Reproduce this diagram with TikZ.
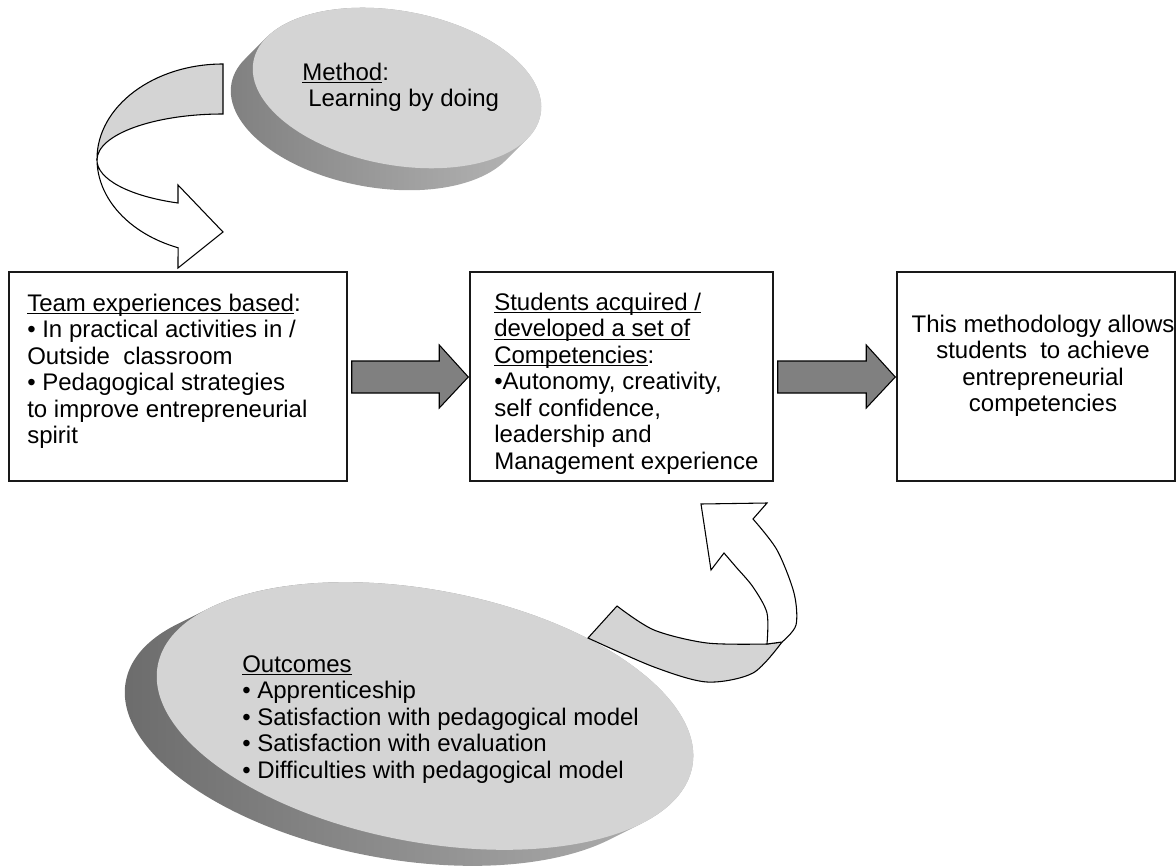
\documentclass[tikz,border=0pt]{standalone}
\usepackage{fontspec}
\setmainfont{Liberation Sans}
\usetikzlibrary{calc,fit}
\newlength\ulwd
\newcommand\myul[1]{\settowidth{\ulwd}{#1}\rlap{\rule[-2.3pt]{\ulwd}{0.85pt}}#1}
\begin{document}
\begin{tikzpicture}[x=0.75pt,y=-0.75pt,
  box/.style={draw=black!90,line width=1.1pt,fill=white,inner sep=0pt},
  txt/.style={font=\fontsize{18}{19.9}\selectfont,inner sep=0pt,align=left,anchor=north west},
  ctxt/.style={font=\fontsize{18}{19.9}\selectfont,inner sep=0pt,align=center,anchor=north},
  blockarrow/.style={draw=black,fill=black!50,line width=0.8pt,line join=miter},
  ribbon/.style={draw=black,line width=0.8pt,line join=miter},
  backside/.style={fill=black!17},
  face/.style={fill=black!17},
]
\useasboundingbox (0,0) rectangle (1176,866);

% ---------- top disc ----------
\begin{scope}[shift={(397,88)},rotate=-10.5]
  \shade[left color=black!50,right color=black!28]
    \foreach \k in {0,1,...,22} { ({-0.8*\k},{1.164*\k}) ellipse [x radius=146, y radius=77] };
  \path[face] (0,0) ellipse [x radius=146, y radius=77];
\end{scope}
\node[txt] (m) at (302,61.4) {\strut\myul{Method}:\\\hspace{4.5pt}Learning by doing};

% ---------- bottom disc ----------
\begin{scope}[shift={(425,716)},rotate=-10.75]
  \shade[left color=black!58,right color=black!30]
    \foreach \k in {0,1,...,30} { ({-28.4*\k/30},{21.7*\k/30}) ellipse [x radius=272, y radius=126] };
  \path[face] (0,0) ellipse [x radius=272, y radius=126];
\end{scope}
\node[txt] (o) at (242,653.4) {\strut\myul{Outcomes}\\
  • Apprenticeship\\
  • Satisfaction with pedagogical model\\
  • Satisfaction with evaluation\\
  • Difficulties with pedagogical model};

% ---------- top curved arrow ----------
\draw[ribbon,backside] (223,64) arc[start angle=270,end angle=180,x radius=126,y radius=95]
  -- (97,160) arc[start angle=180,end angle=270,x radius=126,y radius=46] -- cycle;
\draw[ribbon,fill=white] (97,159) arc[start angle=180,end angle=110.9,x radius=126,y radius=95]
  -- (178,268) -- (223,232) -- (178,185) -- (178,203)
  arc[start angle=110.9,end angle=180,x radius=126,y radius=46] -- cycle;

% ---------- bottom curved arrow ----------
\draw[ribbon,backside] (588,638) -- (617,606)
  -- plot[smooth] coordinates {(617,606) (654,630) (707,643) (767,644)}
  -- (782,642)
  -- plot[smooth] coordinates {(782,642) (753,673) (707,682) (654,667) (588,638)} -- cycle;
\draw[ribbon,fill=white] (753,519)
  -- plot[smooth] coordinates {(753,519) (777,550) (794,593) (796,625) (782,642)}
  -- (767,644)
  -- plot[smooth] coordinates {(767,644) (767,613) (753,587) (736,567) (724,553)}
  -- (711,570) -- (701,504) -- (767,503) -- cycle;

% ---------- boxes ----------
\node[box,fit={(9,272) (347,481)}] (b1) {};
\node[box,fit={(470,272) (773,481)}] (b2) {};
\node[box,fit={(897,272) (1175,481)}] (b3) {};

\node[txt] (t1) at (27,292.4) {\strut\myul{Team experiences based}:\\
  • In practical activities in /\\
  Outside\ \ classroom\\
  • Pedagogical strategies\\
  to improve entrepreneurial\\
  spirit};
\node[txt] (t2) at (494,291.4) {\strut\myul{Students acquired /}\\
  \myul{developed a set of}\\
  \myul{Competencies}:\\
  •Autonomy, creativity,\\
  self confidence,\\
  leadership and\\
  Management experience};
\node[ctxt] (t3) at (1043,313.4) {\strut This methodology allows\\
  students\ \ to achieve\\
  entrepreneurial\\
  competencies};

% ---------- block arrows ----------
\draw[blockarrow] ($(b1.east)+(4,-15.5)$) -- ($(b2.west)+(-30,-15.5)$) -- ($(b2.west)+(-30,-31.5)$)
  -- ($(b2.west)+(-1,0.5)$) -- ($(b2.west)+(-30,31.5)$) -- ($(b2.west)+(-30,16.5)$)
  -- ($(b1.east)+(4,16.5)$) -- cycle;
\draw[blockarrow] ($(b2.east)+(4,-15.5)$) -- ($(b3.west)+(-30,-15.5)$) -- ($(b3.west)+(-30,-31.5)$)
  -- ($(b3.west)+(-1,0.5)$) -- ($(b3.west)+(-30,31.5)$) -- ($(b3.west)+(-30,16.5)$)
  -- ($(b2.east)+(4,16.5)$) -- cycle;
\end{tikzpicture}
\end{document}
